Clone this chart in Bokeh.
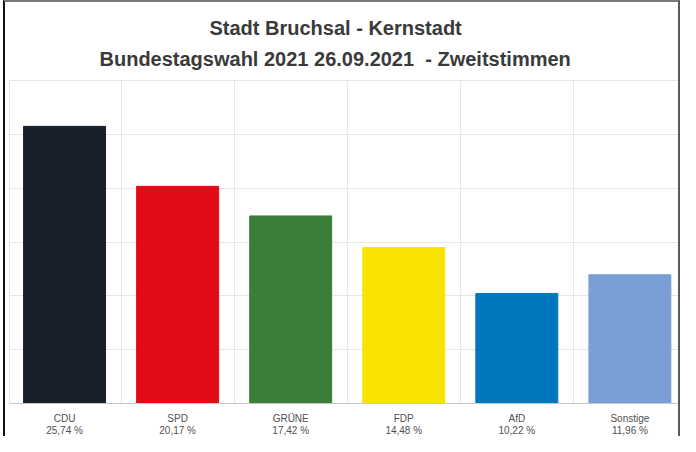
from bokeh.plotting import figure
from bokeh.models import Range1d, FixedTicker, Title, ColumnDataSource
from bokeh.embed import file_html
from bokeh.resources import INLINE

# ---- data ----
parties = ["CDU", "SPD", "GRÜNE", "FDP", "AfD", "Sonstige"]
shares = [25.74, 20.17, 17.42, 14.48, 10.22, 11.96]
share_labels = ["25,74 %", "20,17 %", "17,42 %", "14,48 %", "10,22 %", "11,96 %"]
colors = ["#18202a", "#e20b17", "#3a7e3a", "#f8e400", "#0076bd", "#7a9fd4"]
title_line1 = "Stadt Bruchsal - Kernstadt"
title_line2 = "Bundestagswahl 2021 26.09.2021\u00a0 - Zweitstimmen"
y_ticks = [0, 5, 10, 15, 20, 25, 30]

W, H = 677, 436
idx = list(range(len(parties)))

p = figure(width=W, height=H, output_backend="svg", toolbar_location=None,
           x_range=Range1d(-0.487, 5.43), y_range=Range1d(0, 30),
           min_border_left=4, min_border_right=4, min_border_top=78, min_border_bottom=34,
           background_fill_color="white", border_fill_color="white")
p.outline_line_color = "#e6e6e6"
p.styles = {"border-top": "2px solid #7a7a7a", "border-left": "2px solid #111111",
            "border-right": "2px solid #5a5a5a", "margin-left": "3px"}

src = ColumnDataSource(dict(x=idx, top=shares, color=colors))
p.vbar(x="x", top="top", bottom=0, width=0.725, fill_color="color", line_color="color", source=src)

# axes
p.yaxis.visible = False
p.xaxis.ticker = FixedTicker(ticks=idx)
p.xaxis.major_label_overrides = {i: f"{parties[i]}\n{share_labels[i]}" for i in idx}
p.xaxis.major_tick_line_color = None
p.xaxis.minor_tick_line_color = None
p.xaxis.axis_line_color = "#c8c8c8"
p.xaxis.major_label_text_font = "Liberation Sans"
p.xaxis.major_label_text_font_size = "10px"
p.xaxis.major_label_text_line_height = 1.1
p.xaxis.major_label_text_color = "#505050"
p.xaxis.major_label_standoff = 3

# grids
p.ygrid.ticker = FixedTicker(ticks=y_ticks)
p.ygrid.grid_line_color = "#e6e6e6"
p.xgrid.ticker = FixedTicker(ticks=[i + 0.5 for i in idx])
p.xgrid.grid_line_color = "#e6e6e6"

# title lines (second line added first: it sits nearest the plot)
p.add_layout(Title(text=title_line2, align="left", offset=90, standoff=22,
                   text_font="Liberation Sans", text_font_style="bold",
                   text_font_size="20px", text_color="#3a3a3a"), "above")
p.add_layout(Title(text=title_line1, align="left", offset=200, standoff=-8,
                   text_font="Liberation Sans", text_font_style="bold",
                   text_font_size="20px", text_color="#3a3a3a"), "above")

open("out.html", "w").write(file_html(p, INLINE))
